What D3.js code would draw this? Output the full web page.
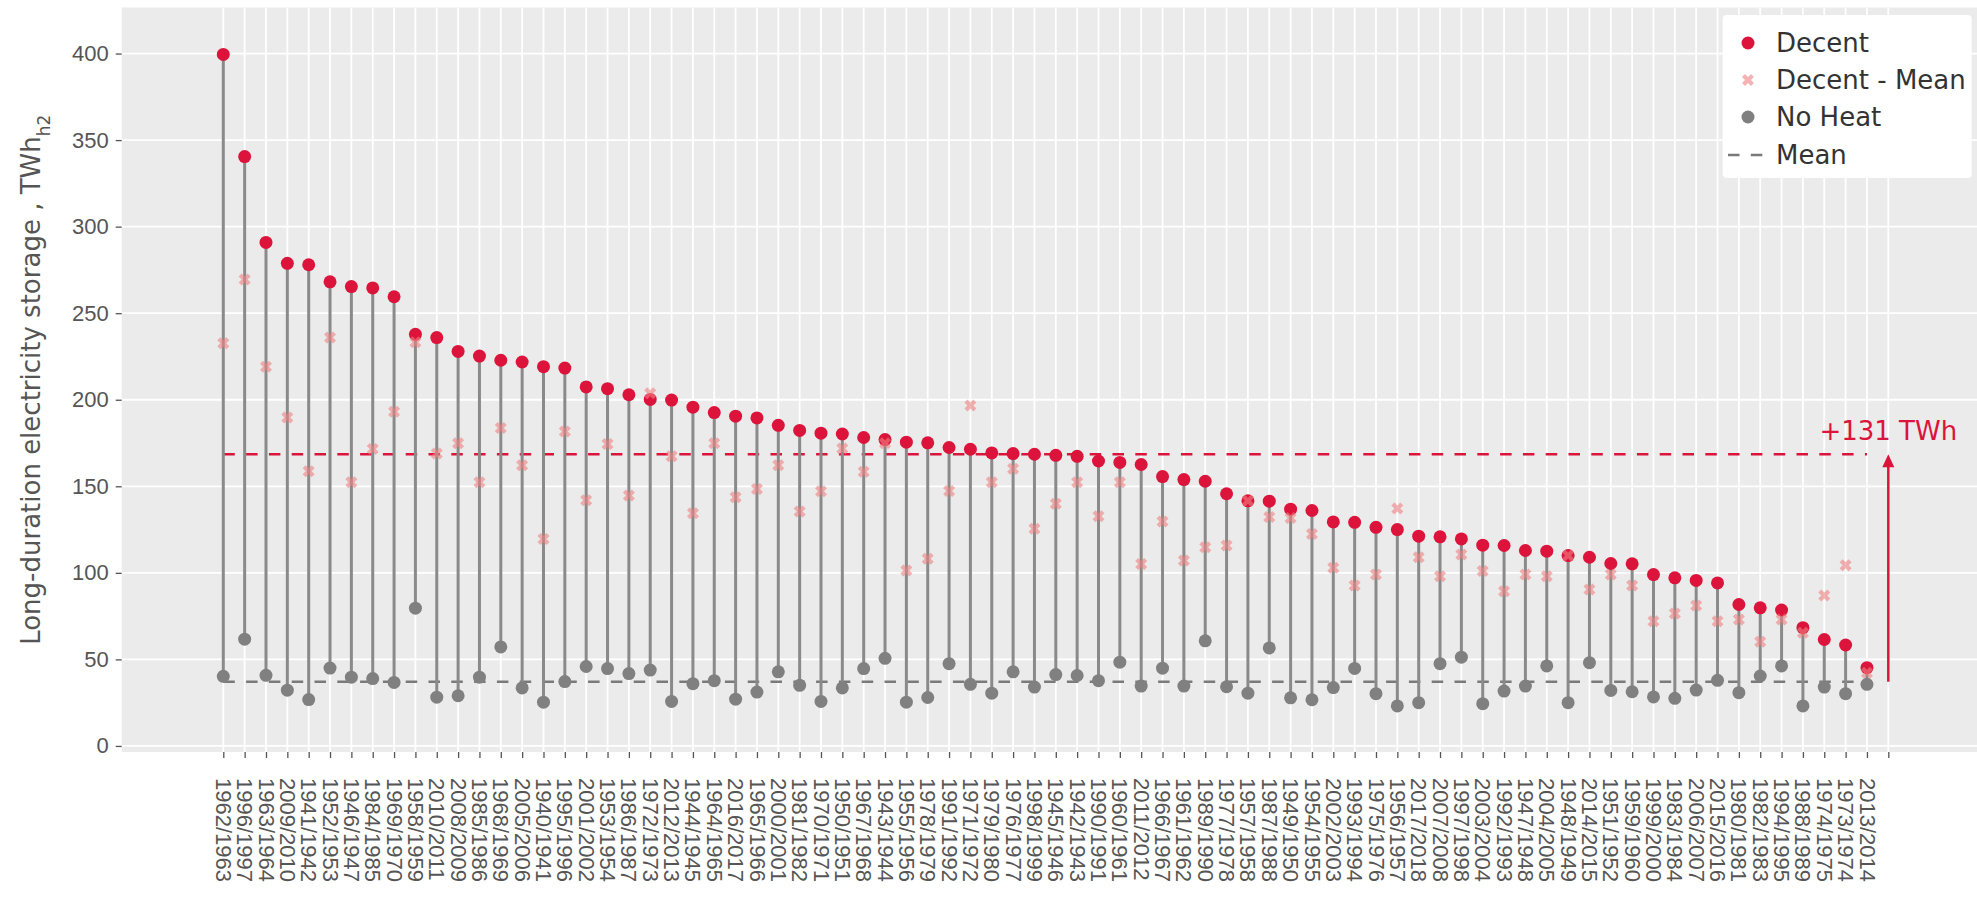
<!DOCTYPE html>
<html>
<head>
<meta charset="utf-8">
<script src="https://cdn.jsdelivr.net/npm/d3@7"></script>
<style>
  body { margin: 0; background: #fff; }
  svg { display: block; font-family: "DejaVu Sans", sans-serif; }
</style>
</head>
<body>
<div id="chart"></div>
<script>
// winters, sorted by Decent storage need
var labels = ["1962/1963","1996/1997","1963/1964","2009/2010","1941/1942","1952/1953","1946/1947","1984/1985","1969/1970","1958/1959",
  "2010/2011","2008/2009","1985/1986","1968/1969","2005/2006","1940/1941","1995/1996","2001/2002","1953/1954","1986/1987",
  "1972/1973","2012/2013","1944/1945","1964/1965","2016/2017","1965/1966","2000/2001","1981/1982","1970/1971","1950/1951",
  "1967/1968","1943/1944","1955/1956","1978/1979","1991/1992","1971/1972","1979/1980","1976/1977","1998/1999","1945/1946",
  "1942/1943","1990/1991","1960/1961","2011/2012","1966/1967","1961/1962","1989/1990","1977/1978","1957/1958","1987/1988",
  "1949/1950","1954/1955","2002/2003","1993/1994","1975/1976","1956/1957","2017/2018","2007/2008","1997/1998","2003/2004",
  "1992/1993","1947/1948","2004/2005","1948/1949","2014/2015","1951/1952","1959/1960","1999/2000","1983/1984","2006/2007",
  "2015/2016","1980/1981","1982/1983","1994/1995","1988/1989","1974/1975","1973/1974","2013/2014"];

var decent = [399.5,340.5,290.9,278.8,278.0,268.1,265.4,264.6,259.5,237.8,
  235.9,227.9,225.2,222.8,221.8,219.1,218.3,207.4,206.4,202.9,
  200.2,199.8,195.7,192.6,190.5,189.5,185.2,182.3,180.7,180.2,
  178.2,177.0,175.5,175.1,172.4,171.4,169.3,168.9,168.5,167.9,
  167.3,164.6,163.8,162.6,155.6,153.9,152.9,145.7,141.6,141.4,
  136.8,136.0,129.4,129.2,126.3,125.0,121.2,120.8,119.6,116.0,
  115.8,112.9,112.5,110.0,109.0,105.4,105.2,99.0,97.1,95.6,
  94.2,81.7,79.8,78.5,68.3,61.5,58.3,45.2];

var decentMean = [232.7,269.4,219.0,189.8,158.7,235.9,152.3,171.6,193.0,233.2,
  168.9,174.8,152.3,183.7,162.1,119.5,181.7,142.0,174.5,144.7,
  203.7,167.3,134.4,174.9,143.6,148.4,162.1,135.4,147.1,171.8,
  158.4,174.9,101.4,108.2,147.3,196.7,152.3,160.1,125.5,139.9,
  152.3,132.7,152.3,105.1,129.6,107.2,114.8,115.8,141.6,132.3,
  131.7,122.4,102.9,92.7,99.0,137.1,109.0,98.1,110.6,101.0,
  89.4,99.0,98.1,110.0,90.4,99.0,92.7,72.1,76.5,81.2,
  72.1,73.1,60.2,73.1,65.4,86.9,104.4,42.3];

var noHeat = [40.2,61.7,40.8,32.2,26.8,45.0,39.7,38.9,36.7,79.6,
  28.2,29.0,39.7,57.2,33.5,25.3,37.2,45.9,44.7,41.8,
  43.8,25.7,36.0,37.7,27.0,31.1,42.8,35.0,25.7,33.5,
  44.7,50.6,25.3,28.0,47.5,35.6,30.5,42.8,34.0,41.2,
  40.7,37.7,48.4,34.6,44.9,34.6,60.7,34.2,30.5,56.6,
  27.8,26.7,33.7,44.8,30.2,23.1,25.0,47.5,51.3,24.4,
  31.7,34.6,46.2,25.0,48.1,32.1,31.3,28.3,27.5,32.3,
  37.9,30.8,40.4,46.2,23.1,34.0,30.2,35.6];

var decentAvg = 168.5;
var noHeatAvg = 37.1;
var gapLabel = "+131 TWh";
var yTicks = [0, 50, 100, 150, 200, 250, 300, 350, 400];
var legendNames = ["Decent", "Decent - Mean", "No Heat", "Mean"];

var w = 1977, h = 903;
var plotLeft = 121.7, plotTop = 7.5, plotBottom = 752;
var red = "crimson", grey = "#808080", pink = "lightcoral";

var svg = d3.select("#chart").append("svg")
    .attr("width", w)
    .attr("height", h);

// one extra empty slot on the right holds the arrow
var xScale = d3.scalePoint()
    .domain(d3.range(labels.length + 1))
    .range([223.3, 1888.3]);

var yScale = d3.scaleLinear()
    .domain([-3.5, 426.6])
    .range([plotBottom, plotTop]);

svg.append("rect")
    .attr("x", plotLeft).attr("y", plotTop)
    .attr("width", w - plotLeft).attr("height", plotBottom - plotTop)
    .attr("fill", "#ebebeb");

// grid
svg.append("g").selectAll("line")
    .data(yTicks).enter().append("line")
    .attr("x1", plotLeft).attr("x2", w)
    .attr("y1", function(d) { return yScale(d); })
    .attr("y2", function(d) { return yScale(d); })
    .attr("stroke", "#fff").attr("stroke-width", 1.8);

svg.append("g").selectAll("line")
    .data(xScale.domain()).enter().append("line")
    .attr("x1", function(d) { return xScale(d); })
    .attr("x2", function(d) { return xScale(d); })
    .attr("y1", plotTop).attr("y2", plotBottom)
    .attr("stroke", "#fff").attr("stroke-width", 1.8);

// axes
var xAxis = d3.axisBottom(xScale)
    .tickSize(6)
    .tickFormat(function(i) { return labels[i] || ""; });

var gx = svg.append("g")
    .attr("transform", "translate(0," + plotBottom + ")")
    .call(xAxis);
gx.select(".domain").remove();
gx.selectAll("line").attr("stroke", "#555").attr("stroke-width", 1.3);
gx.selectAll("text")
    .attr("transform", "rotate(90)")
    .attr("x", 26).attr("y", 0).attr("dy", "0.36em")
    .style("text-anchor", "start")
    .style("font-size", "22px")
    .attr("fill", "#555");

var yAxis = d3.axisLeft(yScale)
    .tickValues(yTicks)
    .tickSize(6);

var gy = svg.append("g")
    .attr("transform", "translate(" + plotLeft + ",0)")
    .call(yAxis);
gy.select(".domain").remove();
gy.selectAll("line").attr("stroke", "#555").attr("stroke-width", 1.3);
gy.selectAll("text")
    .attr("x", -13)
    .style("font-size", "22px")
    .attr("fill", "#555");

var ylab = svg.append("text")
    .attr("transform", "translate(31," + ((plotTop + plotBottom) / 2) + ") rotate(-90)")
    .attr("text-anchor", "middle")
    .attr("dy", "0.35em")
    .style("font-size", "26px")
    .attr("fill", "#555")
    .text("Long-duration electricity storage , TWh");
ylab.append("tspan")
    .attr("baseline-shift", "sub")
    .style("font-size", "17px")
    .text("h2");

var idx = d3.range(labels.length);
var lastX = xScale(labels.length - 1);

// mean lines
svg.append("line")
    .attr("x1", xScale(0)).attr("x2", lastX)
    .attr("y1", yScale(noHeatAvg)).attr("y2", yScale(noHeatAvg))
    .attr("stroke", "#7a7a7a").attr("stroke-width", 2.5)
    .attr("stroke-dasharray", "11.5,11.3");

svg.append("line")
    .attr("x1", xScale(0)).attr("x2", lastX)
    .attr("y1", yScale(decentAvg)).attr("y2", yScale(decentAvg))
    .attr("stroke", red).attr("stroke-width", 2.5)
    .attr("stroke-dasharray", "11.5,11.3");

// stems
svg.append("g").selectAll("line")
    .data(idx).enter().append("line")
    .attr("x1", function(i) { return xScale(i); })
    .attr("x2", function(i) { return xScale(i); })
    .attr("y1", function(i) { return yScale(noHeat[i]); })
    .attr("y2", function(i) { return yScale(decent[i]); })
    .attr("stroke", "#8a8a8a").attr("stroke-width", 3);

svg.append("g").selectAll("circle")
    .data(idx).enter().append("circle")
    .attr("cx", function(i) { return xScale(i); })
    .attr("cy", function(i) { return yScale(noHeat[i]); })
    .attr("r", 6.5)
    .attr("fill", grey);

svg.append("g").selectAll("circle")
    .data(idx).enter().append("circle")
    .attr("cx", function(i) { return xScale(i); })
    .attr("cy", function(i) { return yScale(decent[i]); })
    .attr("r", 6.5)
    .attr("fill", red);

var xMark = d3.symbol().type(d3.symbolCross).size(90);
svg.append("g").selectAll("path")
    .data(idx).enter().append("path")
    .attr("d", xMark)
    .attr("transform", function(i) {
        return "translate(" + xScale(i) + "," + yScale(decentMean[i]) + ") rotate(45)";
    })
    .attr("fill", pink)
    .attr("opacity", 0.6);

// gap arrow
var ax = xScale(labels.length);
var tipY = yScale(decentAvg);
svg.append("line")
    .attr("x1", ax).attr("x2", ax)
    .attr("y1", yScale(noHeatAvg)).attr("y2", tipY + 10)
    .attr("stroke", red).attr("stroke-width", 2.5);
svg.append("path")
    .attr("d", "M" + ax + "," + tipY + "L" + (ax - 6) + "," + (tipY + 13) + "L" + (ax + 6) + "," + (tipY + 13) + "Z")
    .attr("fill", red);
svg.append("text")
    .attr("x", ax).attr("y", tipY - 14)
    .attr("text-anchor", "middle")
    .style("font-size", "26px")
    .attr("fill", red)
    .text(gapLabel);

// legend
var lg = svg.append("g");
lg.append("rect")
    .attr("x", 1722.7).attr("y", 15)
    .attr("width", 249).attr("height", 163)
    .attr("rx", 4)
    .attr("fill", "#fff");

var rowY = [43, 80, 117, 155];
lg.append("circle").attr("cx", 1748).attr("cy", rowY[0]).attr("r", 6.5).attr("fill", red);
lg.append("path").attr("d", xMark)
    .attr("transform", "translate(1748," + rowY[1] + ") rotate(45)")
    .attr("fill", pink).attr("opacity", 0.6);
lg.append("circle").attr("cx", 1748).attr("cy", rowY[2]).attr("r", 6.5).attr("fill", grey);
lg.append("line")
    .attr("x1", 1728).attr("x2", 1766)
    .attr("y1", rowY[3]).attr("y2", rowY[3])
    .attr("stroke", "#7a7a7a").attr("stroke-width", 2.5)
    .attr("stroke-dasharray", "11.5,11.3");

lg.selectAll("text")
    .data(legendNames).enter().append("text")
    .attr("x", 1776)
    .attr("y", function(d, i) { return rowY[i]; })
    .attr("dy", "0.36em")
    .style("font-size", "26px")
    .attr("fill", "#333")
    .text(function(d) { return d; });
</script>
</body>
</html>
